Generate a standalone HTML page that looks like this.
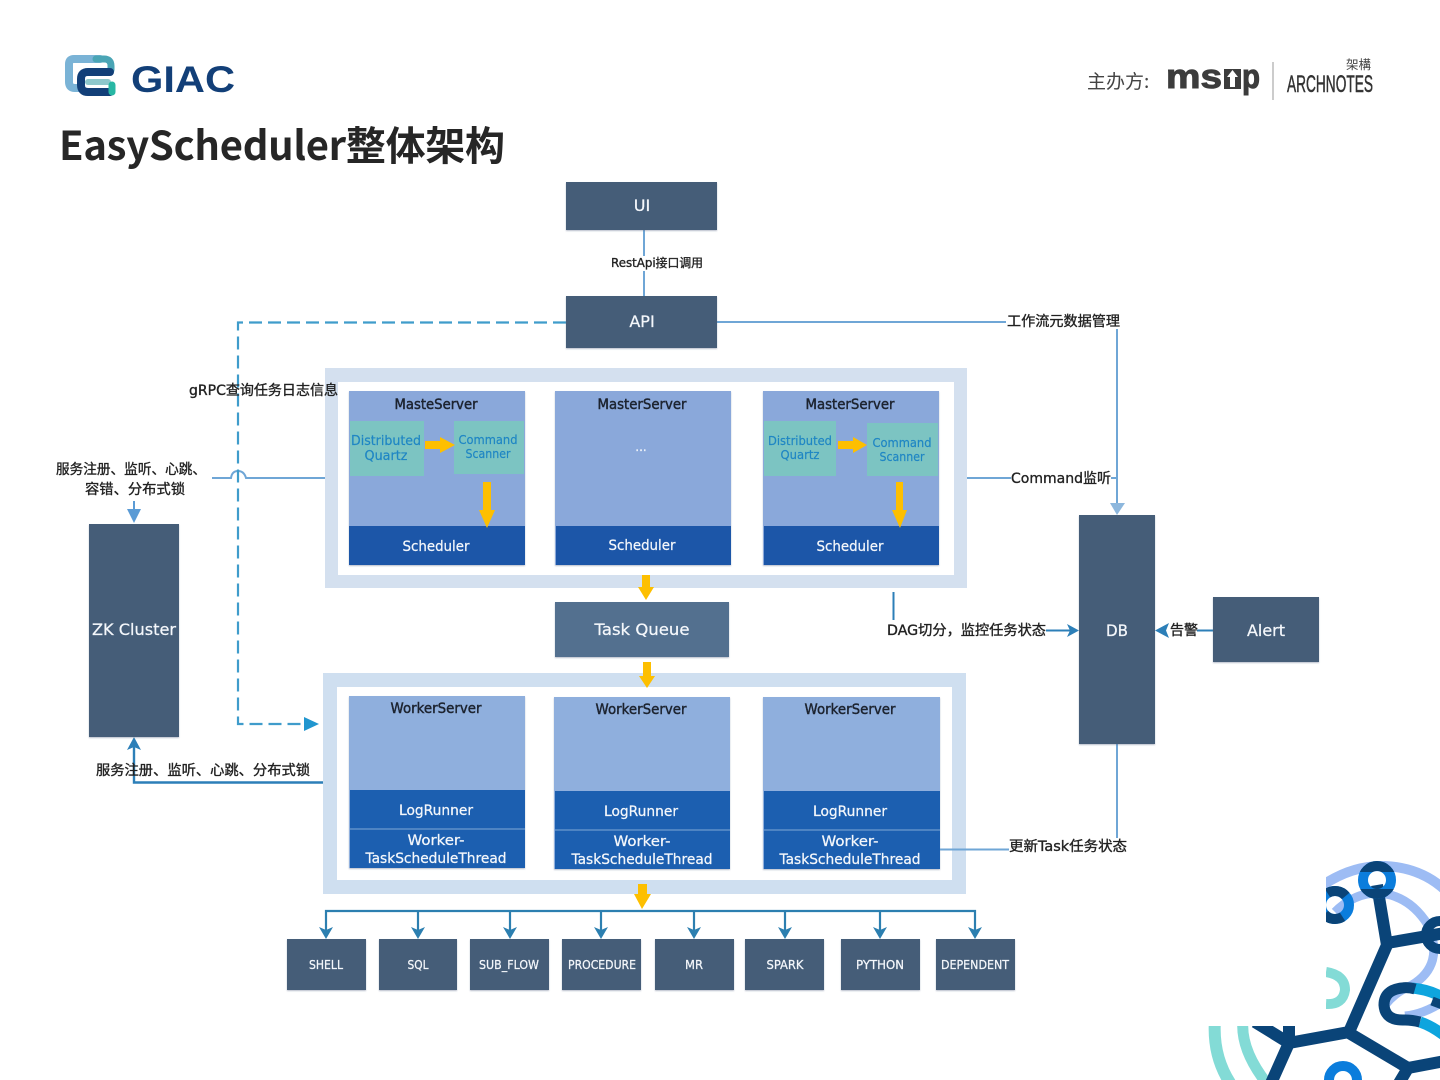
<!DOCTYPE html>
<html lang="zh"><head><meta charset="utf-8"><title>EasyScheduler整体架构</title>
<style>
html,body{margin:0;padding:0;background:#fff}
svg{display:block}
text{font-family:"DejaVu Sans","Noto Sans CJK SC",sans-serif}
.w{fill:#f4f7fb;text-anchor:middle;stroke:#f4f7fb;stroke-width:.25}
.k{fill:#1d2430;text-anchor:middle;stroke:#1d2430;stroke-width:.45}
.l{fill:#222;stroke:#222;stroke-width:.35}
.b{fill:#1f86c4;text-anchor:middle;stroke:#1f86c4;stroke-width:.2}
.d{fill:#445d78}
.m{fill:#3c3c3c;stroke:#3c3c3c;stroke-width:1;font-size:34px;font-weight:700;font-family:"Liberation Sans",sans-serif}
</style></head><body>
<svg xmlns="http://www.w3.org/2000/svg" width="1440" height="1080" viewBox="0 0 1440 1080">
<defs>
<filter id="s" x="-5%" y="-5%" width="110%" height="110%"><feDropShadow dx="0" dy="1" stdDeviation="0.8" flood-color="#60708a" flood-opacity=".45"/></filter>
<clipPath id="c1"><path d="M1326 840H1440V1080H1180V1026H1326Z"/></clipPath>
<clipPath id="r1"><path d="M1350 855H1405V872H1350ZM1350 889H1405V905H1350Z"/></clipPath>
</defs>
<rect width="1440" height="1080" fill="#fff"/>

<!-- logo -->
<g fill="none" stroke-linecap="round">
<path d="M100 59H74Q69 59 69 64V82Q69 88 75 88H80" stroke="#7ab3d6" stroke-width="8"/>
<path d="M96 59H104Q111 59 111 66V70" stroke="#4aa5b5" stroke-width="7"/>
<path d="M110 72H88Q81 72 81 79V85Q81 92 88 92H110" stroke="#123f78" stroke-width="8"/>
<path d="M88 82H108" stroke="#8ec8cc" stroke-width="6"/>
<path d="M112 85V92" stroke="#28b7a4" stroke-width="7"/>
</g>
<text x="131" y="92" font-size="37" font-weight="700" fill="#123f78" textLength="104" lengthAdjust="spacingAndGlyphs" style="font-family:'Liberation Sans',sans-serif">GIAC</text>

<text x="59" y="160" font-size="40" font-weight="700" fill="#262626" style="font-family:'Noto Sans CJK SC',sans-serif" textLength="446">EasyScheduler整体架构</text>

<!-- sponsor -->
<text x="1087" y="88" font-size="19" fill="#444" style="font-family:'Noto Sans CJK SC',sans-serif">主办方:</text>
<text class="m" x="1166" y="88" textLength="56" lengthAdjust="spacingAndGlyphs">ms</text>
<text class="m" x="1224" y="88" textLength="18" lengthAdjust="spacingAndGlyphs">u</text>
<text class="m" x="1242" y="88" textLength="18" lengthAdjust="spacingAndGlyphs">p</text>
<rect x="1224" y="69" width="17" height="20" fill="#3c3c3c"/>
<polygon points="1232.500,70 1238,77 1235,77 1235,87 1230,87 1230,77 1227,77" fill="#fff"/>
<rect x="1272.500" y="62" width="1" height="38" fill="#999"/>
<text x="1287" y="92" font-size="24" fill="#333" stroke="#333" stroke-width=".5" textLength="86" lengthAdjust="spacingAndGlyphs" style="font-family:'Liberation Sans',sans-serif">ARCHNOTES</text>
<text x="1346" y="69" font-size="12.500" fill="#444" style="font-family:'Noto Sans CJK SC',sans-serif">架構</text>

<!-- connectors behind -->
<g fill="none" stroke="#6fa6d6" stroke-width="2">
<path d="M644 230V296"/>
<path d="M717 322H1117V505"/>
<path d="M967 478H1117"/>
<path d="M1117 744V838"/>
<path d="M212 478H231Q232 471 238 471Q244 471 246 478H325"/>
</g>
<path d="M566 322.500H238V724H305" fill="none" stroke="#3f9ccb" stroke-width="2.200" stroke-dasharray="13 6"/>
<polygon points="304,717 319,724 304,731" fill="#2196cf"/>
<polygon points="1110,503 1125,503 1117,515" fill="#8db7dd"/>
<path d="M134 501V514" stroke="#5b9bd5" stroke-width="2"/>
<polygon points="127,509 141,509 134,523" fill="#5b9bd5"/>
<path d="M325 782.500H134V745" fill="none" stroke="#2c7fb8" stroke-width="2.400"/>
<polygon points="134,737 141,750 134,747 127,750" fill="#2c7fb8"/>
<path d="M893.500 592V620" stroke="#2c7fb8" stroke-width="2"/>
<path d="M1046 630.500H1075" stroke="#2c7fb8" stroke-width="2"/>
<polygon points="1079,630.500 1067,624 1070,630.500 1067,637" fill="#2c7fb8"/>
<path d="M1197 630.500H1213" stroke="#2c7fb8" stroke-width="2"/>
<polygon points="1155,630.500 1169,623 1166,630.500 1169,638" fill="#2c7fb8"/>

<!-- boxes -->
<g class="d" filter="url(#s)">
<rect x="566" y="182" width="151" height="48"/>
<rect x="566" y="296" width="151" height="52"/>
<rect x="89" y="524" width="90" height="213"/>
<rect x="1079" y="515" width="76" height="229"/>
<rect x="1213" y="597" width="106" height="65"/>
<rect x="287" y="939" width="79" height="51"/>
<rect x="379" y="939" width="78" height="51"/>
<rect x="470" y="939" width="79" height="51"/>
<rect x="562" y="939" width="79" height="51"/>
<rect x="655" y="939" width="79" height="51"/>
<rect x="745" y="939" width="79" height="51"/>
<rect x="841" y="939" width="79" height="51"/>
<rect x="936" y="939" width="79" height="51"/>
</g>
<rect x="555" y="602" width="174" height="55" fill="#53708f" filter="url(#s)"/>

<!-- master container -->
<rect x="325" y="368" width="642" height="220" fill="#d4e0ef"/>
<rect x="338" y="382" width="616" height="193" fill="#fff"/>
<g filter="url(#s)">
<rect x="349" y="391" width="176" height="174" fill="#8aa8da"/>
<rect x="349" y="526" width="176" height="39" fill="#1a56a8"/>
<rect x="555" y="391" width="176" height="174" fill="#8aa8da"/>
<rect x="556" y="526" width="175" height="39" fill="#1a56a8"/>
<rect x="763" y="391" width="176" height="174" fill="#8aa8da"/>
<rect x="764" y="526" width="175" height="39" fill="#1a56a8"/>
</g>
<g fill="#7cc4c2">
<rect x="350" y="421" width="74" height="55"/>
<rect x="454" y="421" width="70" height="53"/>
<rect x="764" y="421" width="72" height="55"/>
<rect x="867" y="423" width="71" height="53"/>
</g>

<!-- worker container -->
<rect x="323" y="673" width="643" height="221" fill="#cfdff0"/>
<rect x="337" y="687" width="615" height="193" fill="#fff"/>
<g filter="url(#s)">
<rect x="349" y="696" width="176" height="172" fill="#8fafdd"/>
<rect x="350" y="790" width="175" height="78" fill="#1b5fb0"/>
<rect x="554" y="697" width="176" height="172" fill="#8fafdd"/>
<rect x="555" y="791" width="175" height="78" fill="#1b5fb0"/>
<rect x="763" y="697" width="177" height="172" fill="#8fafdd"/>
<rect x="764" y="791" width="176" height="78" fill="#1b5fb0"/>
</g>
<g fill="#7fa8d6">
<rect x="350" y="828.500" width="175" height="1"/>
<rect x="555" y="829.500" width="175" height="1"/>
<rect x="764" y="829.500" width="176" height="1"/>
</g>
<path d="M940 849.500H1010" stroke="#6fa6d6" stroke-width="2" fill="none"/>

<!-- yellow arrows -->
<g fill="#fdbf00">
<polygon points="425,441 440,441 440,437 455,445 440,453 440,449 425,449"/>
<polygon points="838,441 853,441 853,437 867,445 853,453 853,449 838,449"/>
<polygon points="483,482 491,482 491,510 495,510 487,528 479,510 483,510"/>
<polygon points="896,482 903,482 903,510 907,510 900,528 892,510 896,510"/>
<polygon points="642,575 650,575 650,587 654,587 646,600 638,587 642,587"/>
<polygon points="643,662 651,662 651,676 655,676 647,688 639,676 643,676"/>
<polygon points="638,884 647,884 647,894 651,894 642,909 634,894 638,894"/>
</g>

<!-- bus -->
<path d="M326 932V911H975V932" fill="none" stroke="#2c7fb0" stroke-width="2.200"/>
<g stroke="#2c7fb0" stroke-width="2.200"><path d="M418 911V932M510 911V932M601 911V932M694 911V932M785 911V932M880 911V932"/></g>
<g fill="#2c7fb0">
<polygon points="319,927 326,930 333,927 326,939"/><polygon points="411,927 418,930 425,927 418,939"/><polygon points="503,927 510,930 517,927 510,939"/><polygon points="594,927 601,930 608,927 601,939"/><polygon points="687,927 694,930 701,927 694,939"/><polygon points="778,927 785,930 792,927 785,939"/><polygon points="873,927 880,930 887,927 880,939"/><polygon points="968,927 975,930 982,927 975,939"/>
</g>

<!-- labels on lines -->
<g fill="#fff">
<rect x="609" y="256" width="96" height="15"/>
<rect x="1006" y="314" width="115" height="15"/>
<rect x="1011" y="471" width="100" height="15"/>
<rect x="1009" y="838" width="120" height="16"/>
</g>
<g class="l" font-size="12">
<text x="611" y="267" textLength="92" lengthAdjust="spacingAndGlyphs">RestApi接口调用</text>
<text x="1007" y="326" font-size="14" textLength="113" lengthAdjust="spacingAndGlyphs">工作流元数据管理</text>
<text x="1011" y="483" font-size="14" textLength="100" lengthAdjust="spacingAndGlyphs">Command监听</text>
<text x="189" y="395" font-size="14" textLength="149" lengthAdjust="spacingAndGlyphs">gRPC查询任务日志信息</text>
<text x="56" y="474" font-size="14" textLength="150" lengthAdjust="spacingAndGlyphs">服务注册、监听、心跳、</text>
<text x="85" y="494" font-size="14" textLength="100" lengthAdjust="spacingAndGlyphs">容错、分布式锁</text>
<text x="96" y="775" font-size="14" textLength="214" lengthAdjust="spacingAndGlyphs">服务注册、监听、心跳、分布式锁</text>
<text x="887" y="635" font-size="14" textLength="159" lengthAdjust="spacingAndGlyphs">DAG切分，监控任务状态</text>
<text x="1170" y="635" font-size="14" textLength="28" lengthAdjust="spacingAndGlyphs">告警</text>
<text x="1009" y="851" font-size="14" textLength="118" lengthAdjust="spacingAndGlyphs">更新Task任务状态</text>
</g>

<!-- node text -->
<g class="w" font-size="16">
<text x="642" y="211">UI</text>
<text x="642" y="327">API</text>
<text x="134" y="635" textLength="84" lengthAdjust="spacingAndGlyphs">ZK Cluster</text>
<text x="1117" y="636" textLength="22" lengthAdjust="spacingAndGlyphs">DB</text>
<text x="1266" y="636" textLength="38" lengthAdjust="spacingAndGlyphs">Alert</text>
<text x="642" y="635" textLength="95" lengthAdjust="spacingAndGlyphs">Task Queue</text>
</g>
<g class="w" font-size="14">
<text x="436" y="551" textLength="67" lengthAdjust="spacingAndGlyphs">Scheduler</text>
<text x="642" y="550" textLength="67" lengthAdjust="spacingAndGlyphs">Scheduler</text>
<text x="850" y="551" textLength="67" lengthAdjust="spacingAndGlyphs">Scheduler</text>
<text x="436" y="815" textLength="74" lengthAdjust="spacingAndGlyphs">LogRunner</text>
<text x="641" y="816" textLength="74" lengthAdjust="spacingAndGlyphs">LogRunner</text>
<text x="850" y="816" textLength="74" lengthAdjust="spacingAndGlyphs">LogRunner</text>
<text x="436" y="845" textLength="57" lengthAdjust="spacingAndGlyphs">Worker-</text>
<text x="436" y="863" textLength="141" lengthAdjust="spacingAndGlyphs">TaskScheduleThread</text>
<text x="642" y="846" textLength="57" lengthAdjust="spacingAndGlyphs">Worker-</text>
<text x="642" y="864" textLength="141" lengthAdjust="spacingAndGlyphs">TaskScheduleThread</text>
<text x="850" y="846" textLength="57" lengthAdjust="spacingAndGlyphs">Worker-</text>
<text x="850" y="864" textLength="141" lengthAdjust="spacingAndGlyphs">TaskScheduleThread</text>
</g>
<g class="k" font-size="14">
<text x="436" y="409" textLength="83" lengthAdjust="spacingAndGlyphs">MasteServer</text>
<text x="642" y="409" textLength="89" lengthAdjust="spacingAndGlyphs">MasterServer</text>
<text x="850" y="409" textLength="89" lengthAdjust="spacingAndGlyphs">MasterServer</text>
<text x="436" y="713" textLength="91" lengthAdjust="spacingAndGlyphs">WorkerServer</text>
<text x="641" y="714" textLength="91" lengthAdjust="spacingAndGlyphs">WorkerServer</text>
<text x="850" y="714" textLength="91" lengthAdjust="spacingAndGlyphs">WorkerServer</text>
</g>
<text x="641" y="451" class="w" font-size="12">...</text>
<g class="b" font-size="13">
<text x="386" y="445" textLength="70" lengthAdjust="spacingAndGlyphs">Distributed</text>
<text x="386" y="460" textLength="43" lengthAdjust="spacingAndGlyphs">Quartz</text>
<text x="488" y="444" font-size="12" textLength="59" lengthAdjust="spacingAndGlyphs">Command</text>
<text x="488" y="458" font-size="12" textLength="45" lengthAdjust="spacingAndGlyphs">Scanner</text>
<text x="800" y="445" font-size="12" textLength="64" lengthAdjust="spacingAndGlyphs">Distributed</text>
<text x="800" y="459" font-size="12" textLength="39" lengthAdjust="spacingAndGlyphs">Quartz</text>
<text x="902" y="447" font-size="12" textLength="59" lengthAdjust="spacingAndGlyphs">Command</text>
<text x="902" y="461" font-size="12" textLength="45" lengthAdjust="spacingAndGlyphs">Scanner</text>
</g>
<g class="w" font-size="12">
<text x="326" y="969" textLength="34" lengthAdjust="spacingAndGlyphs">SHELL</text>
<text x="418" y="969" textLength="21" lengthAdjust="spacingAndGlyphs">SQL</text>
<text x="509" y="969" textLength="60" lengthAdjust="spacingAndGlyphs">SUB_FLOW</text>
<text x="602" y="969" textLength="68" lengthAdjust="spacingAndGlyphs">PROCEDURE</text>
<text x="694" y="969" textLength="18" lengthAdjust="spacingAndGlyphs">MR</text>
<text x="785" y="969" textLength="37" lengthAdjust="spacingAndGlyphs">SPARK</text>
<text x="880" y="969" textLength="48" lengthAdjust="spacingAndGlyphs">PYTHON</text>
<text x="975" y="969" textLength="68" lengthAdjust="spacingAndGlyphs">DEPENDENT</text>
</g>

<!-- corner decoration -->
<g clip-path="url(#c1)" fill="none">
<path d="M1310 895Q1345 865 1385 866Q1425 868 1450 895" stroke="#9dbcf4" stroke-width="10"/>
<path d="M1335 912Q1355 892 1380 893Q1410 896 1428 925Q1445 965 1412 985Q1395 992 1385 1005" stroke="#9dbcf4" stroke-width="9"/>
<path d="M1405 1016Q1425 1014 1445 1000" stroke="#9dbcf4" stroke-width="9"/>
<path d="M1326 972Q1345 975 1345 990Q1343 1005 1326 1004" stroke="#83dbd6" stroke-width="10"/>
<path d="M1215 1020Q1212 1060 1235 1090" stroke="#83dbd6" stroke-width="12"/>
<path d="M1243 1020Q1240 1050 1268 1085" stroke="#83dbd6" stroke-width="11"/>
<path d="M1412 988Q1432 990 1445 999M1420 1022Q1432 1026 1445 1036" stroke="#0ea5de" stroke-width="11"/>
<path d="M1415 989Q1408 987 1402 988Q1384 990 1384 1005Q1385 1021 1405 1020Q1412 1020 1420 1022" stroke="#0a4478" stroke-width="11"/>
<path d="M1432 1001L1445 1006" stroke="#0a4478" stroke-width="9"/>
<g stroke="#0a4478" stroke-width="12">
<path d="M1377 885L1387 945L1349 1032L1289 1043L1268 1090"/>
<path d="M1387 943L1445 933"/>
<path d="M1349 1033L1408 1068L1395 1090"/>
<path d="M1408 1068L1445 1061"/>
<path d="M1289 1043L1255 1022M1289 1043V1022"/>
</g>
<circle cx="1377" cy="880" r="14" stroke="#0b7ddc" stroke-width="10"/>
<circle cx="1377" cy="880" r="14" stroke="#0a4478" stroke-width="10" clip-path="url(#r1)"/>
<circle cx="1335" cy="905" r="14" stroke="#0b7ddc" stroke-width="10"/>
<circle cx="1335" cy="905" r="14" stroke="#0a4478" stroke-width="10" stroke-dasharray="20 24" stroke-dashoffset="30"/>
<circle cx="1440" cy="935" r="14" stroke="#0a4478" stroke-width="10"/>
<circle cx="1343" cy="1080" r="14" stroke="#0b7ddc" stroke-width="10"/>
</g>
</svg>
</body></html>
